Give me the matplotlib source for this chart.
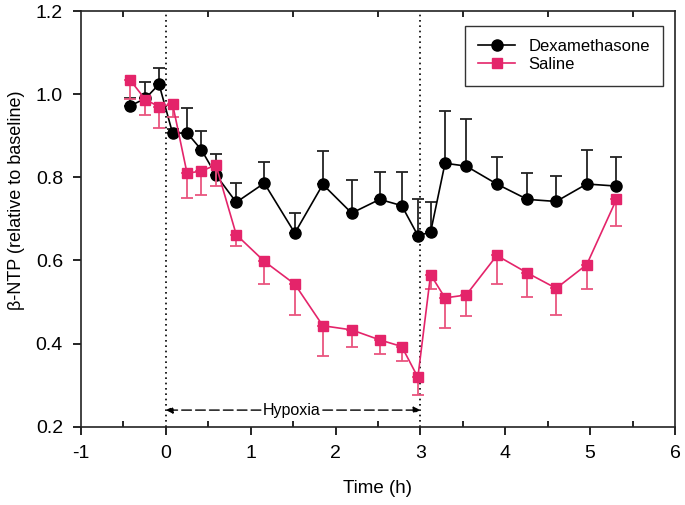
import numpy as np
import matplotlib
matplotlib.use("Agg")
import matplotlib.pyplot as plt
from matplotlib.ticker import MultipleLocator
from matplotlib.lines import Line2D

plt.rcParams['font.family'] = ['Liberation Sans', 'DejaVu Sans']

time_h = [-0.42, -0.24, -0.08, 0.08, 0.25, 0.42, 0.59, 0.83, 1.16, 1.52, 1.85, 2.19,
          2.52, 2.78, 2.97, 3.12, 3.29, 3.54, 3.90, 4.26, 4.60, 4.96, 5.31]

dexa = [0.972, 0.990, 1.024, 0.906, 0.907, 0.866, 0.806, 0.740, 0.786, 0.666, 0.783, 0.714,
        0.747, 0.732, 0.660, 0.668, 0.834, 0.827, 0.784, 0.747, 0.742, 0.784, 0.779]
dexa_err = [0.02, 0.04, 0.04, 0.01, 0.06, 0.045, 0.05, 0.047, 0.052, 0.048, 0.081, 0.080,
            0.065, 0.082, 0.087, 0.072, 0.125, 0.113, 0.064, 0.063, 0.061, 0.082, 0.069]

saline = [1.034, 0.987, 0.970, 0.976, 0.810, 0.815, 0.830, 0.662, 0.598, 0.543, 0.443, 0.433,
          0.409, 0.393, 0.319, 0.566, 0.510, 0.517, 0.612, 0.570, 0.533, 0.590, 0.747]
saline_err = [0.045, 0.038, 0.052, 0.03, 0.060, 0.058, 0.052, 0.027, 0.054, 0.074, 0.072, 0.042,
              0.034, 0.034, 0.042, 0.034, 0.072, 0.050, 0.069, 0.058, 0.065, 0.058, 0.064]

xticks = [-1, 0, 1, 2, 3, 4, 5, 6]
yticks = [0.2, 0.4, 0.6, 0.8, 1.0, 1.2]
hypoxia_start, hypoxia_end = 0, 3

pink = '#E4246A'
pink_err = '#E9557F'

fig = plt.figure(figsize=(6.85, 5.05), dpi=100)
ax = fig.add_axes([0.1182, 0.155, 0.8672, 0.823])

zeros = np.zeros(len(time_h))
ax.errorbar(time_h, dexa, yerr=[zeros, dexa_err], color='black', ecolor='#222222',
            elinewidth=1.3, capsize=4, capthick=1.3, marker='o', markersize=8,
            linewidth=1.2, zorder=3)
ax.errorbar(time_h, saline, yerr=[saline_err, zeros], color=pink, ecolor=pink_err,
            elinewidth=1.3, capsize=4, capthick=1.3, marker='s', markersize=7,
            linewidth=1.2, zorder=4)

for xv in (hypoxia_start, hypoxia_end):
    ax.axvline(xv, color='black', linestyle=(0, (1, 2.2)), linewidth=1.2, zorder=1)

# Hypoxia arrow
ya = 0.24
ax.annotate('', xy=(hypoxia_start, ya), xytext=(1.12, ya),
            arrowprops=dict(arrowstyle='-|>', color='black', lw=1.0, linestyle=(0, (7, 3)),
                            mutation_scale=10, shrinkA=0, shrinkB=0))
ax.annotate('', xy=(hypoxia_end, ya), xytext=(1.85, ya),
            arrowprops=dict(arrowstyle='-|>', color='black', lw=1.0, linestyle=(0, (7, 3)),
                            mutation_scale=10, shrinkA=0, shrinkB=0))
ax.text(1.48, ya, 'Hypoxia', ha='center', va='center', fontsize=11.5)

ax.set_xlim(-1, 6)
ax.set_ylim(0.2, 1.2)
ax.set_xticks(xticks)
ax.set_xticklabels([str(t) for t in xticks])
ax.set_yticks(yticks)
ax.set_yticklabels([f'{t:.1f}' for t in yticks])
ax.xaxis.set_minor_locator(MultipleLocator(0.5))
ax.tick_params(axis='both', which='major', direction='out', length=6, width=1.2,
               labelsize=14, pad=7)
ax.tick_params(axis='x', which='minor', direction='in', length=4, width=1.2, top=True)
for s in ax.spines.values():
    s.set_linewidth(1.2)
    s.set_color('#222222')

ax.set_xlabel('Time (h)', fontsize=13.5, labelpad=13)
ax.set_ylabel('β-NTP (relative to baseline)', fontsize=13, labelpad=10)
ax.yaxis.set_label_coords(-0.094, 0.545)

handles = [
    Line2D([], [], color='black', marker='o', markersize=8, linewidth=1.2, label='Dexamethasone'),
    Line2D([], [], color=pink, marker='s', markersize=7, linewidth=1.2, label='Saline'),
]
leg = ax.legend(handles=handles, loc='upper right', bbox_to_anchor=(0.98, 0.965), fontsize=12,
                frameon=True, fancybox=False, edgecolor='black', handlelength=2.2,
                borderpad=0.8, labelspacing=0.2, borderaxespad=0.0)
leg.get_frame().set_linewidth(1.0)

fig.savefig('out.png', dpi=100)
